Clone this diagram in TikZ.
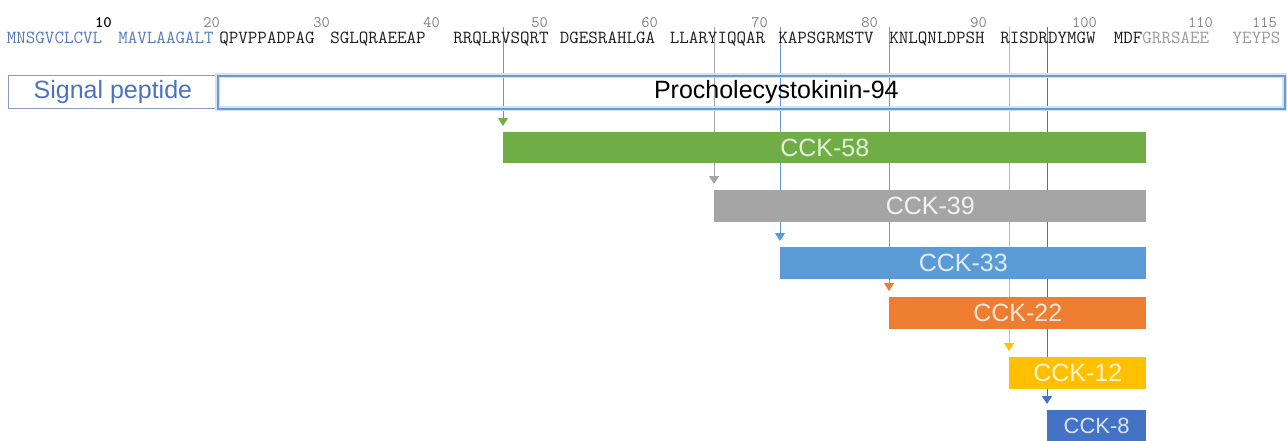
\documentclass[tikz,border=0pt]{standalone}
\usepackage{fontspec}
\newfontfamily\arial{Liberation Sans}
\usetikzlibrary{arrows.meta}
\definecolor{cgreen}{HTML}{70AD47}
\definecolor{cgreenL}{HTML}{E2F0D9}
\definecolor{cgray}{HTML}{A5A5A5}
\definecolor{cgrayL}{HTML}{F2F2F2}
\definecolor{cblue}{HTML}{5B9BD5}
\definecolor{cblueL}{HTML}{DEEBF7}
\definecolor{corange}{HTML}{ED7D31}
\definecolor{corangeL}{HTML}{FBE5D6}
\definecolor{cyellow}{HTML}{FFC000}
\definecolor{cyellowL}{HTML}{FFF2CC}
\definecolor{cdblue}{HTML}{4472C4}
\definecolor{cdblueL}{HTML}{DAE3F3}
\definecolor{cpro}{HTML}{6A9AD4}
\definecolor{cglow}{HTML}{D3E3F5}
\definecolor{csig}{HTML}{8A9BC4}
\definecolor{csigtext}{HTML}{4A72C0}
\definecolor{cseqblue}{HTML}{5A78BE}
\definecolor{cseq}{HTML}{1E1E1E}
\definecolor{cseqgray}{HTML}{9A9A9A}
\definecolor{cnum}{HTML}{808080}
\pgfdeclarelayer{bg}
\pgfsetlayers{bg,main}
\begin{document}
\begin{tikzpicture}[x=1pt,y=-1pt,
  bar/.style={rectangle, anchor=north west, inner sep=0pt, font=\arial\fontsize{25}{25}\selectfont},
  cut/.style={line width=1pt, shorten >=6pt, -{Triangle[width=10pt,length=8pt]}},
  seq/.style={anchor=base, inner sep=0pt, font=\fontsize{18.5}{18.5}\selectfont\ttfamily, text=cseq},
  num/.style={anchor=base east, inner sep=0pt, font=\fontsize{16}{16}\selectfont\ttfamily, text=cnum}]
\useasboundingbox (0,0) rectangle (1287,440);

% position numbers
\node[num, text=black, font=\fontsize{16}{16}\selectfont\ttfamily\bfseries] (n10) at (112,27) {10};
\node[num] (n20) at (220,27) {20};
\node[num] (n30) at (330,27) {30};
\node[num] (n40) at (440,27) {40};
\node[num] (n50) at (548,27) {50};
\node[num] (n60) at (658,27) {60};
\node[num] (n70) at (768,27) {70};
\node[num] (n80) at (878,27) {80};
\node[num] (n90) at (987,27) {90};
\node[num] (n100) at (1097,27) {100};
\node[num] (n110) at (1213,27) {110};
\node[num] (n115) at (1277,27) {115};

% sequence
\node[seq, text=cseqblue] (s1) at (54.5,43.5) {MNSGVCLCVL};
\node[seq, text=cseqblue] (s2) at (166,43.5) {MAVLAAGALT};
\node[seq] (s3) at (267,43.5) {QPVPPADPAG};
\node[seq] (s4) at (378,43.5) {SGLQRAEEAP};
\node[seq] (s5) at (501,43.5) {RRQLRVSQRT};
\node[seq] (s6) at (607.5,43.5) {DGESRAHLGA};
\node[seq] (s7) at (717.5,43.5) {LLARYIQQAR};
\node[seq] (s8) at (826,43.5) {KAPSGRMSTV};
\node[seq] (s9) at (937,43.5) {KNLQNLDPSH};
\node[seq] (s10) at (1048,43.5) {RISDRDYMGW};
\node[seq] (s11) at (1161.5,43.5) {MDF\textcolor{cseqgray}{GRRSAEE}};
\node[seq, text=cseqgray] (s12) at (1256.5,43.5) {YEYPS};

% precursor boxes
\node[rectangle, anchor=north west, inner sep=0pt, minimum width=209pt, minimum height=33pt,
      draw=csig, line width=0.8pt, text=csigtext, font=\arial\fontsize{25}{25}\selectfont] (sig) at (8,75) {Signal peptide};
\node[rectangle, anchor=north west, inner sep=0pt, minimum width=1067pt, minimum height=33pt,
      draw=cpro, line width=1.6pt, preaction={draw=cglow, line width=5pt},
      label={[font=\arial\fontsize{25}{25}\selectfont, text=black, xshift=25pt]center:Procholecystokinin-94}] (pro) at (217,75) {};

% peptide bars
\node[bar, fill=cgreen, text=cgreenL, minimum width=643pt, minimum height=31pt] (c58) at (503,132) {CCK-58};
\node[bar, fill=cgray, text=cgrayL, minimum width=432pt, minimum height=32pt] (c39) at (714,190) {CCK-39};
\node[bar, fill=cblue, text=cblueL, minimum width=366pt, minimum height=32pt] (c33) at (780,247) {CCK-33};
\node[bar, fill=corange, text=corangeL, minimum width=257pt, minimum height=32pt] (c22) at (889,297) {CCK-22};
\node[bar, fill=cyellow, text=cyellowL, minimum width=137pt, minimum height=32pt] (c12) at (1009,357) {CCK-12};
\node[bar, fill=cdblue, text=cdblueL, minimum width=99pt, minimum height=31pt,
      font=\arial\fontsize{22}{22}\selectfont] (c8) at (1047,410) {CCK-8};

% cleavage sites
\coordinate (t58) at (503,27);
\coordinate (t39) at (714,27);
\coordinate (t33) at (780,27);
\coordinate (t22) at (889,27);
\coordinate (t12) at (1009,27);
\coordinate (t8) at (1047,27);
\begin{pgfonlayer}{bg}
\draw[cut, cgreen] (t58) -- (c58.north west);
\draw[cut, cgray] (t39) -- (c39.north west);
\draw[cut, cblue] (t33) -- (c33.north west);
\draw[cut, corange] (t22) -- (c22.north west);
\draw[cut, cyellow] (t12) -- (c12.north west);
\draw[cut, cdblue] (t8) -- (c8.north west);
\end{pgfonlayer}
\end{tikzpicture}
\end{document}
